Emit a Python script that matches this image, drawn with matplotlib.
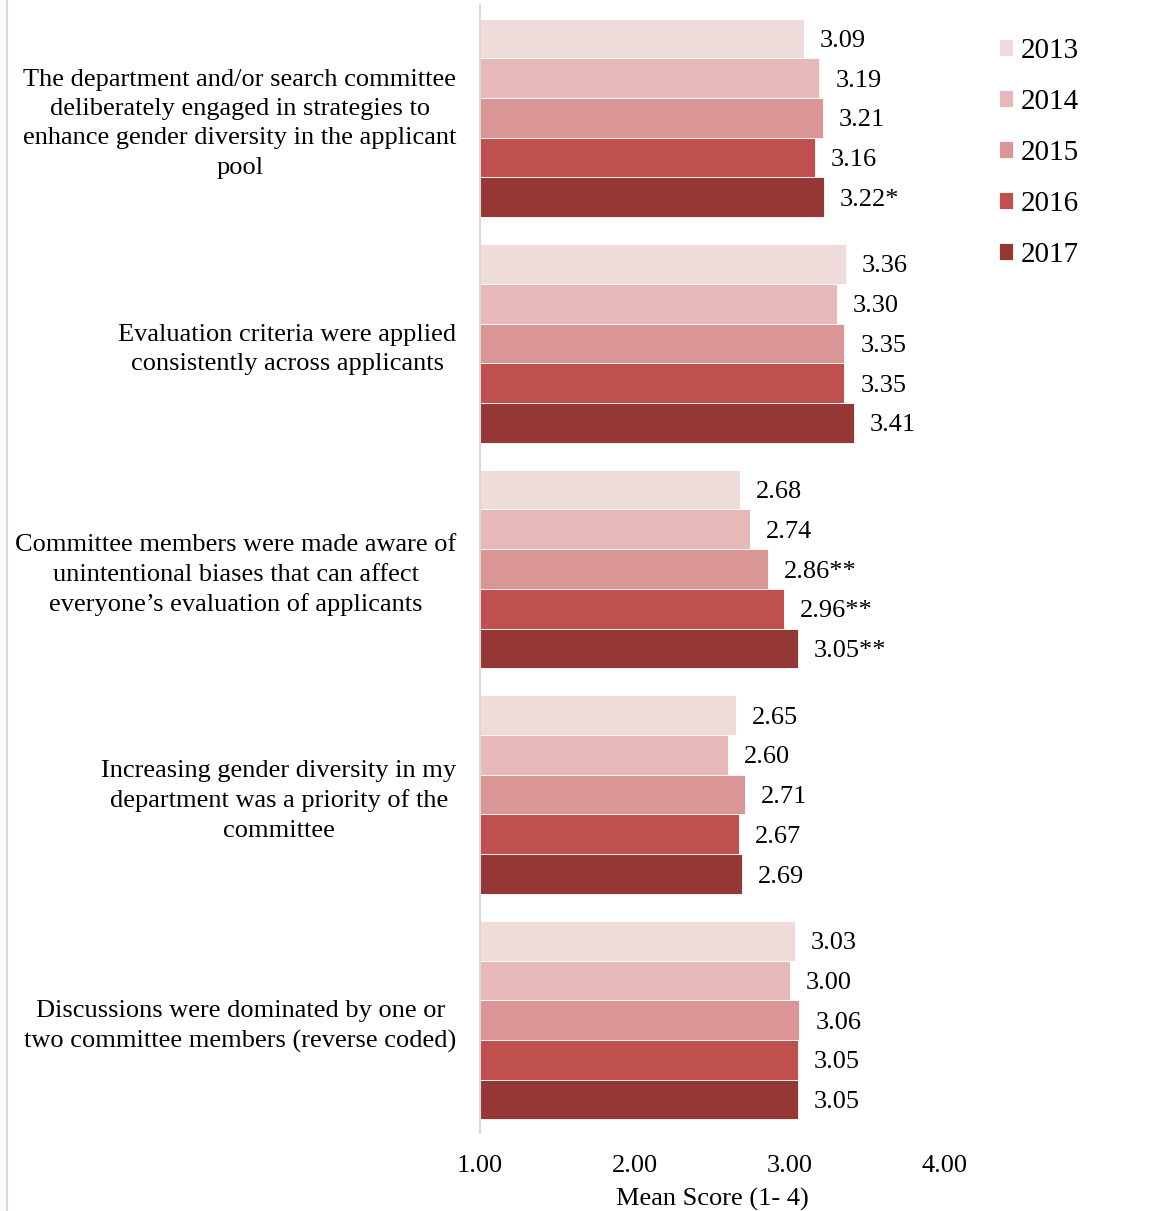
import matplotlib
matplotlib.use('Agg')
import matplotlib.pyplot as plt
import numpy as np

plt.rcParams['font.family'] = ['Liberation Serif', 'DejaVu Serif']

categories = [
    'The department and/or search committee\ndeliberately engaged in strategies to\nenhance gender diversity in the applicant\npool',
    'Evaluation criteria were applied\nconsistently across applicants',
    'Committee members were made aware of\nunintentional biases that can affect\neveryone\u2019s evaluation of applicants',
    'Increasing gender diversity in my\ndepartment was a priority of the\ncommittee',
    'Discussions were dominated by one or\ntwo committee members (reverse coded)',
]
years = ['2013', '2014', '2015', '2016', '2017']
scores_2013 = [3.09, 3.36, 2.68, 2.65, 3.03]
scores_2014 = [3.19, 3.30, 2.74, 2.60, 3.00]
scores_2015 = [3.21, 3.35, 2.86, 2.71, 3.06]
scores_2016 = [3.16, 3.35, 2.96, 2.67, 3.05]
scores_2017 = [3.22, 3.41, 3.05, 2.69, 3.05]
sig_2013 = ['', '', '', '', '']
sig_2014 = ['', '', '', '', '']
sig_2015 = ['', '', '**', '', '']
sig_2016 = ['', '', '**', '', '']
sig_2017 = ['*', '', '**', '', '']

series = [scores_2013, scores_2014, scores_2015, scores_2016, scores_2017]
marks = [sig_2013, sig_2014, sig_2015, sig_2016, sig_2017]
colors = ['#f0dbdb', '#e6b9b8', '#da9694', '#c0504d', '#953735']

W, H = 1151, 1211
fig = plt.figure(figsize=(W / 100, H / 100), dpi=100)
ax = fig.add_axes([480 / W, 1 - 1133 / H, (945 - 480) / W, (1133 - 5) / H])

fs = 19
bar_h = 0.176
y = np.arange(len(categories))
for i, (vals, sig, c, yr) in enumerate(zip(series, marks, colors, years)):
    pos = y - 2 * bar_h + i * bar_h
    ax.barh(pos, np.array(vals) - 1, left=1, height=bar_h, color=c,
            edgecolor='white', linewidth=0.6, label=yr)
    for p, v, s in zip(pos, vals, sig):
        ax.annotate(f'{v:.2f}{s}', xy=(v, p), xytext=(11.5, 0),
                    textcoords='offset points', ha='left',
                    va='center_baseline', fontsize=fs)

ax.set_xlim(1, 4)
ax.set_ylim(len(categories) - 0.5, -0.5)
ax.set_xticks([1, 2, 3, 4])
ax.set_xticklabels(['1.00', '2.00', '3.00', '4.00'], fontsize=fs)
ax.set_yticks(y)
ax.set_yticklabels(categories, fontsize=fs, ma='center', linespacing=1.42)
ax.tick_params(axis='both', length=0)
ax.tick_params(axis='y', pad=17)
ax.tick_params(axis='x', pad=16)
ax.set_xlabel('Mean Score (1- 4)', fontsize=fs, labelpad=8)
for s in ['top', 'right', 'bottom']:
    ax.spines[s].set_visible(False)
ax.spines['left'].set_color('#d9d9d9')
ax.spines['left'].set_linewidth(1.5)

# chart frame edge on the left
fig.add_artist(plt.Line2D([7.5 / W, 7.5 / W], [0, 1], color='#d9d9d9',
                          linewidth=1.5, transform=fig.transFigure))

fig.legend(loc='upper left', bbox_to_anchor=(987 / W, 1 - 26 / H),
           frameon=False, prop={'family': 'Liberation Serif', 'size': 21},
           handlelength=0.5, handleheight=0.5, handletextpad=0.25,
           labelspacing=0.86, borderaxespad=0)

fig.savefig('out.png', dpi=100)
